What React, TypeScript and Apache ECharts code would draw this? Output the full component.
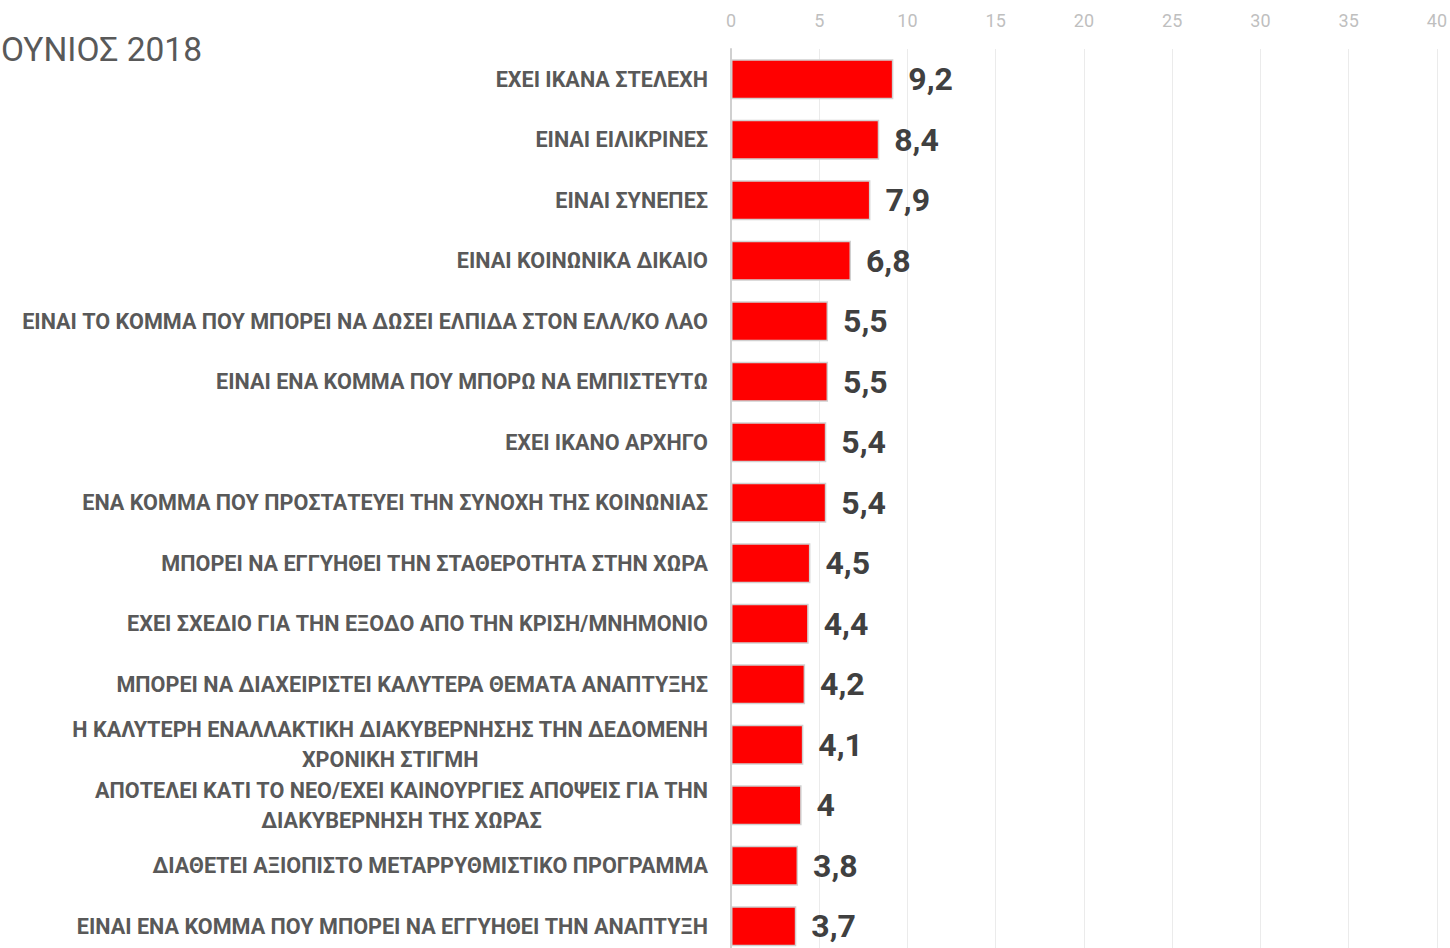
import React, { useEffect, useRef } from "react";
import * as echarts from "echarts";

const categories: string[] = [
  "ΕΧΕΙ ΙΚΑΝΑ ΣΤΕΛΕΧΗ",
  "ΕΙΝΑΙ ΕΙΛΙΚΡΙΝΕΣ",
  "ΕΙΝΑΙ ΣΥΝΕΠΕΣ",
  "ΕΙΝΑΙ ΚΟΙΝΩΝΙΚΑ ΔΙΚΑΙΟ",
  "ΕΙΝΑΙ ΤΟ ΚΟΜΜΑ ΠΟΥ ΜΠΟΡΕΙ ΝΑ ΔΩΣΕΙ ΕΛΠΙΔΑ ΣΤΟΝ ΕΛΛ/ΚΟ ΛΑΟ",
  "ΕΙΝΑΙ ΕΝΑ ΚΟΜΜΑ ΠΟΥ ΜΠΟΡΩ ΝΑ ΕΜΠΙΣΤΕΥΤΩ",
  "ΕΧΕΙ ΙΚΑΝΟ ΑΡΧΗΓΟ",
  "ΕΝΑ ΚΟΜΜΑ ΠΟΥ ΠΡΟΣΤΑΤΕΥΕΙ ΤΗΝ ΣΥΝΟΧΗ ΤΗΣ ΚΟΙΝΩΝΙΑΣ",
  "ΜΠΟΡΕΙ ΝΑ ΕΓΓΥΗΘΕΙ ΤΗΝ ΣΤΑΘΕΡΟΤΗΤΑ ΣΤΗΝ ΧΩΡΑ",
  "ΕΧΕΙ ΣΧΕΔΙΟ ΓΙΑ ΤΗΝ ΕΞΟΔΟ ΑΠΟ ΤΗΝ ΚΡΙΣΗ/ΜΝΗΜΟΝΙΟ",
  "ΜΠΟΡΕΙ ΝΑ ΔΙΑΧΕΙΡΙΣΤΕΙ ΚΑΛΥΤΕΡΑ ΘΕΜΑΤΑ ΑΝΑΠΤΥΞΗΣ",
  "Η ΚΑΛΥΤΕΡΗ ΕΝΑΛΛΑΚΤΙΚΗ ΔΙΑΚΥΒΕΡΝΗΣΗΣ ΤΗΝ ΔΕΔΟΜΕΝΗ\nΧΡΟΝΙΚΗ ΣΤΙΓΜΗ",
  "ΑΠΟΤΕΛΕΙ ΚΑΤΙ ΤΟ ΝΕΟ/ΕΧΕΙ ΚΑΙΝΟΥΡΓΙΕΣ ΑΠΟΨΕΙΣ ΓΙΑ ΤΗΝ\nΔΙΑΚΥΒΕΡΝΗΣΗ ΤΗΣ ΧΩΡΑΣ",
  "ΔΙΑΘΕΤΕΙ ΑΞΙΟΠΙΣΤΟ ΜΕΤΑΡΡΥΘΜΙΣΤΙΚΟ ΠΡΟΓΡΑΜΜΑ",
  "ΕΙΝΑΙ ΕΝΑ ΚΟΜΜΑ ΠΟΥ ΜΠΟΡΕΙ ΝΑ ΕΓΓΥΗΘΕΙ ΤΗΝ ΑΝΑΠΤΥΞΗ",
];

const values: number[] = [9.2, 8.4, 7.9, 6.8, 5.5, 5.5, 5.4, 5.4, 4.5, 4.4, 4.2, 4.1, 4, 3.8, 3.7];

const titleText = "ΟΥΝΙΟΣ 2018";
const axisMin = 0;
const axisMax = 40;
const axisInterval = 5;

export default function App() {
  const ref = useRef<HTMLDivElement>(null);
  useEffect(() => {
    if (!ref.current) return;
    const chart = echarts.init(ref.current, null, { renderer: "svg" });
    const font = "Roboto, 'Noto Sans', sans-serif";
    chart.setOption({
      animation: false,
      backgroundColor: "#ffffff",
      title: {
        text: titleText,
        left: 1,
        top: 32,
        padding: 0,
        textStyle: { fontFamily: font, fontSize: 33.5, fontWeight: "normal", color: "#595959" },
      },
      grid: { left: 731, right: 13, top: 49, bottom: 3.5, containLabel: false },
      xAxis: {
        type: "value",
        position: "top",
        min: axisMin,
        max: axisMax,
        interval: axisInterval,
        axisLine: { show: false },
        axisTick: { show: false },
        axisLabel: { color: "#bfbfbf", fontSize: 18, fontFamily: font, margin: 20 },
        splitLine: { show: true, lineStyle: { color: "#ebebeb", width: 1 } },
      },
      yAxis: {
        type: "category",
        inverse: true,
        data: categories,
        axisLine: { show: true, lineStyle: { color: "#d0d0d0", width: 2 } },
        axisTick: { show: false },
        axisLabel: {
          margin: 23,
          interval: 0,
          formatter: (v: string) => v.split("\n").map((l) => `{c|${l}}`).join("\n"),
          rich: {
            c: {
              align: "center",
              fontFamily: font,
              fontSize: 21.6,
              fontWeight: "bold",
              color: "#595959",
              lineHeight: 30,
            },
          },
        },
      },
      series: [
        {
          type: "bar",
          data: values,
          barWidth: 40,
          itemStyle: { color: "#ff0000", borderColor: "#d0d0d0", borderWidth: 1.5 },
          label: {
            show: true,
            position: "right",
            distance: 15,
            formatter: (p: any) => String(p.value).replace(".", ","),
            fontFamily: font,
            fontSize: 32,
            fontWeight: "bold",
            color: "#404040",
          },
        },
      ],
    });
    return () => chart.dispose();
  }, []);
  return (
    <div style={{ position: "fixed", left: 0, top: 0, width: 1450, height: 948, overflow: "hidden" }}>
      <div ref={ref} style={{ width: 1450, height: 960 }} />
    </div>
  );
}
